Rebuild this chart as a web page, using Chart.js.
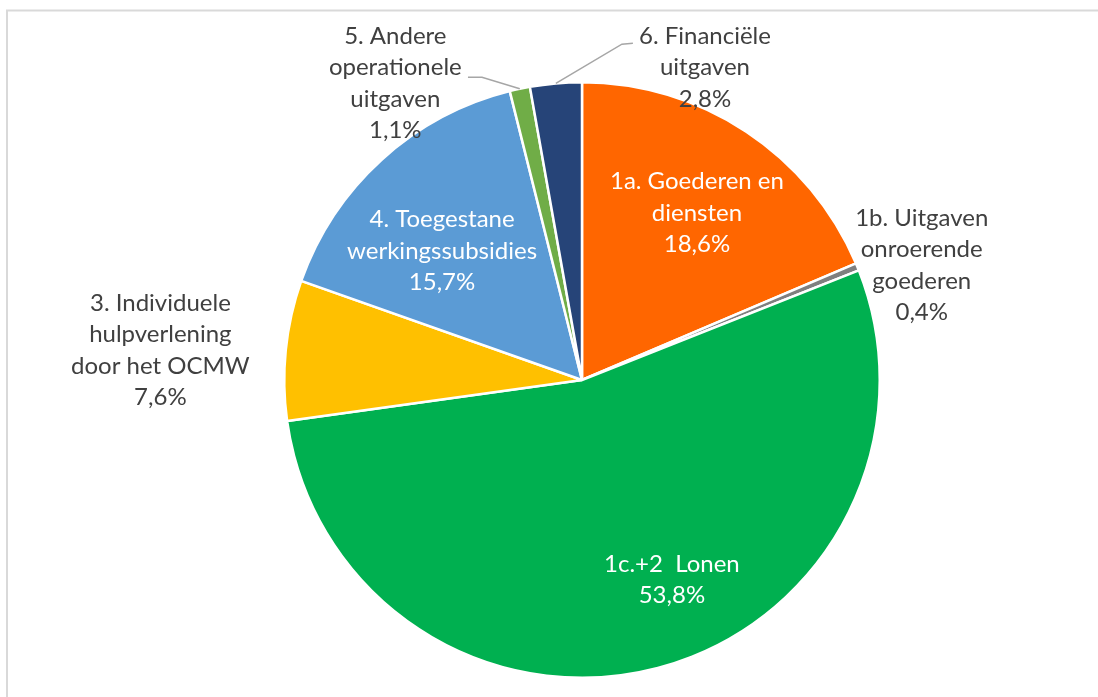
<!DOCTYPE html>
<html lang="nl">
<head>
    <meta charset="UTF-8">
    <title>Uitgaven</title>
    <style>
        html, body { margin: 0; padding: 0; background: #fff; }
        #wrap { width: 1098px; height: 697px; }
    </style>
</head>
<body>
    <div id="wrap"><canvas id="pieChart" width="1098" height="697"></canvas></div>
    <script src="https://cdn.jsdelivr.net/npm/chart.js"></script>
    <script>
        const categories = [
            ['1a. Goederen en', 'diensten'],
            ['1b. Uitgaven', 'onroerende', 'goederen'],
            ['1c.+2  Lonen'],
            ['3. Individuele', 'hulpverlening', 'door het OCMW'],
            ['4. Toegestane', 'werkingssubsidies'],
            ['5. Andere', 'operationele', 'uitgaven'],
            ['6. Financiële', 'uitgaven']
        ];
        const shares = [18.6, 0.4, 53.8, 7.6, 15.7, 1.1, 2.8];
        const sliceColors = ['#FF6600', '#7F7F7F', '#00B050', '#FFC000', '#5B9BD5', '#70AD47', '#264478'];

        // label placement: block centre as offset from pie centre (in radii), text colour, leader elbow/end
        const labelPlace = [
            { fx: 0.386, fy: -0.56, color: '#fff' },
            { fx: 1.141, fy: -0.386, color: '#404040' },
            { fx: 0.302, fy: 0.671, color: '#fff' },
            { fx: -1.416, fy: -0.10, color: '#404040' },
            { fx: -0.47, fy: -0.433, color: '#fff' },
            { fx: -0.627, fy: -0.997, color: '#404040', elbow: [-0.336, -1.017], end: [-0.383, -1.017] },
            { fx: 0.413, fy: -1.05, color: '#404040', elbow: [0.134, -1.128], end: [0.171, -1.131] }
        ];

        const FONT = '24px Lato, Calibri, sans-serif';
        const LINE_H = 31.5;

        const fmt = v => v.toFixed(1).replace('.', ',') + '%';

        const framePlugin = {
            id: 'frame',
            beforeDraw(chart) {
                const c = chart.ctx;
                c.save();
                c.strokeStyle = '#d9d9d9';
                c.lineWidth = 2;
                c.beginPath();
                c.moveTo(7, chart.height);
                c.lineTo(7, 10.5);
                c.lineTo(chart.width, 10.5);
                c.stroke();
                c.restore();
            }
        };

        const labelPlugin = {
            id: 'sliceLabels',
            afterDraw(chart) {
                const c = chart.ctx;
                const meta = chart.getDatasetMeta(0);
                c.save();
                c.font = FONT;
                c.textAlign = 'center';
                c.textBaseline = 'middle';
                meta.data.forEach((arc, i) => {
                    const cx = arc.x, cy = arc.y, r = arc.outerRadius;
                    const p = labelPlace[i];
                    if (p.elbow) {
                        const mid = (arc.startAngle + arc.endAngle) / 2;
                        c.strokeStyle = '#a6a6a6';
                        c.lineWidth = 1.5;
                        c.beginPath();
                        c.moveTo(cx + r * Math.cos(mid), cy + r * Math.sin(mid));
                        c.lineTo(cx + p.elbow[0] * r, cy + p.elbow[1] * r);
                        c.lineTo(cx + p.end[0] * r, cy + p.end[1] * r);
                        c.stroke();
                    }
                    const lines = categories[i].concat([fmt(shares[i])]);
                    const bx = cx + p.fx * r, by = cy + p.fy * r;
                    c.fillStyle = p.color;
                    lines.forEach((t, k) => {
                        c.fillText(t, bx, by + (k - (lines.length - 1) / 2) * LINE_H);
                    });
                });
                c.restore();
            }
        };

        const ctx = document.getElementById('pieChart').getContext('2d');
        new Chart(ctx, {
            type: 'pie',
            data: {
                labels: categories.map(l => l.join(' ')),
                datasets: [{
                    data: shares,
                    backgroundColor: sliceColors,
                    borderColor: '#ffffff',
                    borderWidth: 2.5
                }]
            },
            plugins: [framePlugin, labelPlugin],
            options: {
                responsive: false,
                animation: false,
                layout: { padding: { top: 81, bottom: 18, left: 283, right: 217 } },
                plugins: {
                    legend: { display: false },
                    tooltip: { enabled: false }
                }
            }
        });
    </script>
</body>
</html>
